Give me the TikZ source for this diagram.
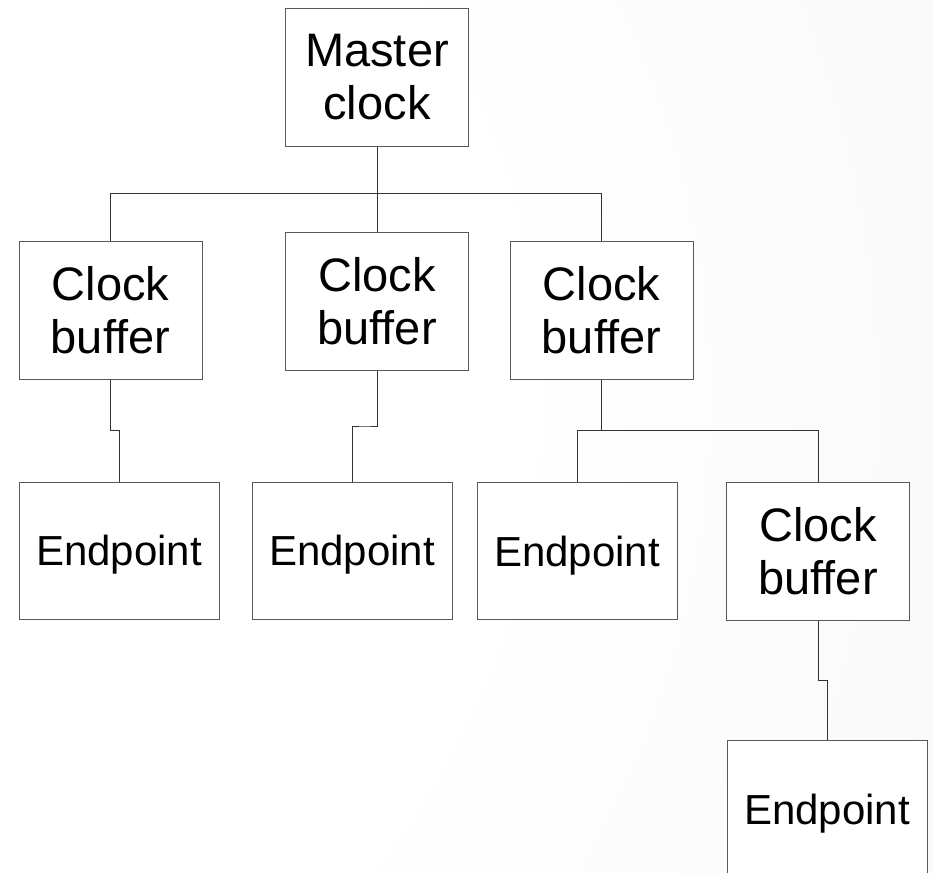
\documentclass[tikz,border=0pt]{standalone}
\usepackage{fontspec}
\setmainfont{Liberation Sans}
\usetikzlibrary{calc}
\definecolor{pagegray}{RGB}{239,239,239}
\pgfdeclareradialshading{backdrop}{\pgfpoint{0bp}{0bp}}{color(0bp)=(white); color(14bp)=(white); color(41bp)=(pagegray); color(50bp)=(pagegray)}
\newcommand{\elbow}[2]{\draw[wire] (#1.south) |- ($(#1.south)!.5!(#2.north)$) -| (#2.north);}

\begin{document}
\begin{tikzpicture}[x=0.5pt,y=-0.5pt,
		wire/.style={draw=black!80, line width=0.5pt},
		blk/.style={draw=black!65, line width=0.5pt, fill=white, inner sep=0pt,
			minimum width=91.5pt, minimum height=69pt, align=center,
			font=\fontsize{23.5}{26.5}\selectfont},
		leaf/.style={blk, minimum width=100pt, minimum height=68.5pt, text depth=0pt,
			font=\fontsize{21}{25}\selectfont}]
		\useasboundingbox (0,0) rectangle (933,873);
		\begin{scope}
			\clip (0,0) rectangle (933,873);
			\shade[shading=backdrop] (-200,400) circle[radius=625pt];
		\end{scope}

		\node[blk] at (377,77)(mc){Master\\clock};
		\node[blk] at (110.5,310)(cb1){Clock\\buffer};
		\node[blk] at (377,301)(cb2){Clock\\buffer};
		\node[blk] at (601.5,310)(cb3){Clock\\buffer};
		\node[leaf] at (119,550.5)(ep1){Endpoint};
		\node[leaf] at (352,550.5)(ep2){Endpoint};
		\node[leaf] at (577,551)(ep3){Endpoint};
		\node[blk] at (818,551)(cb4){Clock\\buffer};
		\node[leaf] at (827,809)(ep4){Endpoint};

		\draw[wire] (mc.south) -- (cb2.north);
		\elbow{mc}{cb1}
		\elbow{mc}{cb3}
		\elbow{cb1}{ep1}
		\elbow{cb2}{ep2}
		\elbow{cb3}{ep3}
		\elbow{cb3}{cb4}
		\elbow{cb4}{ep4}
	\end{tikzpicture}
\end{document}
